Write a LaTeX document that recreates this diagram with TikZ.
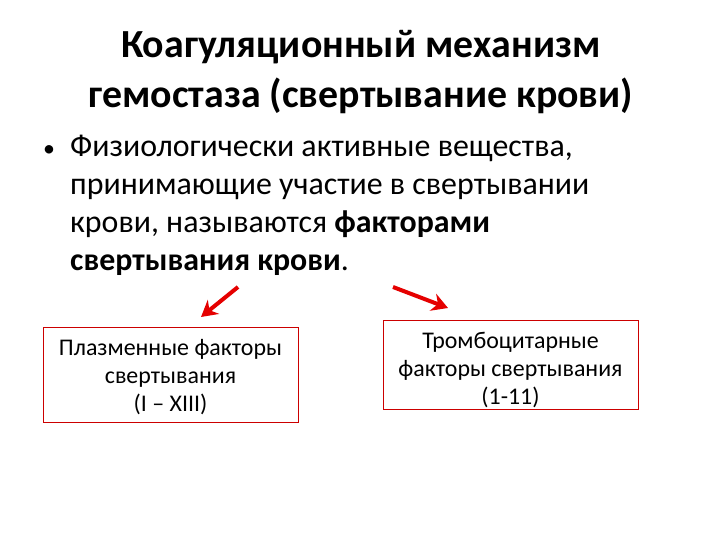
\documentclass[tikz,border=0pt]{standalone}
\usepackage{fontspec}
\setmainfont{Carlito}
\usetikzlibrary{arrows.meta}
\tikzset{
  titletext/.style={font=\fontsize{40}{50}\selectfont\bfseries, align=center},
  bodytext/.style={font=\fontsize{32}{38}\selectfont, anchor=base west, inner sep=0pt},
  factorbox/.style={draw=red!80!black, line width=0.8bp, align=center, font=\fontsize{24}{28.5}\selectfont},
  redarrow/.style={draw=red!90!black, line width=4bp, -{Stealth[length=16bp,width=18bp]}}
}
\begin{document}
\begin{tikzpicture}[x=1bp,y=-1bp]
\useasboundingbox[fill=white] (0,0) rectangle (720,540);

% title
\node[titletext] (title) at (361,72) {Коагуляционный механизм\\гемостаза (свертывание крови)};

% bullet text
\node[bodytext, font=\fontsize{24}{38}\selectfont] (dot) at (43,157) {•};
\node[bodytext] (b1) at (70,157) {Физиологически активные вещества,};
\node[bodytext] (b2) at (70,195) {принимающие участие в свертывании};
\node[bodytext] (b3) at (70,233) {крови, называются \textbf{факторами}};
\node[bodytext] (b4) at (70,271) {\textbf{свертывания крови}.};

% boxes
\draw[factorbox] (43,327) rectangle (298,422);
\node[factorbox, draw=none] (plasma) at (170.5,377) {Плазменные факторы\\свертывания\\(I -- XIII)};
\draw[factorbox] (383,320) rectangle (638,409);
\node[factorbox, draw=none] (thrombo) at (510.5,370) {Тромбоцитарные\\факторы свертывания\\(1-11)};

% arrows
\coordinate (a1) at (238,287);
\coordinate (a2) at (201,317);
\coordinate (a3) at (393,287);
\coordinate (a4) at (448,308);
\draw[redarrow] (a1) -- (a2);
\draw[redarrow] (a3) -- (a4);
\end{tikzpicture}
\end{document}
